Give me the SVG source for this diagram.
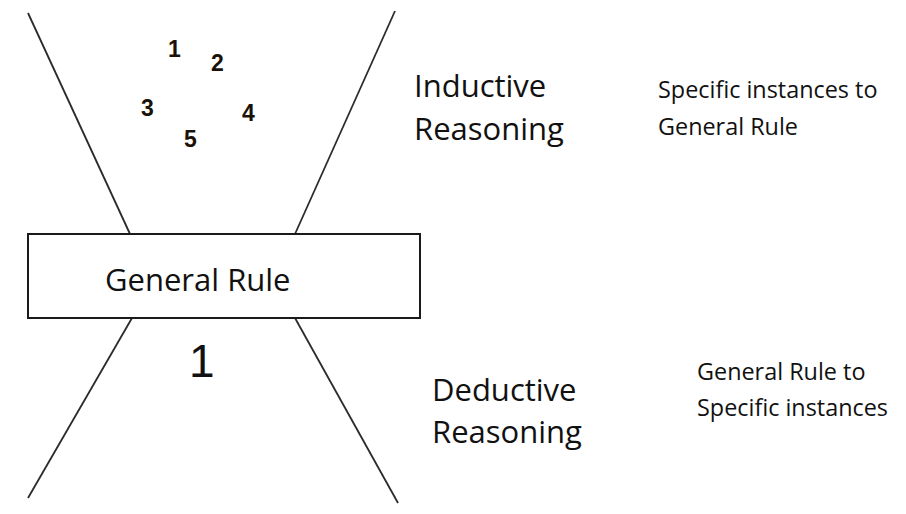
<svg xmlns="http://www.w3.org/2000/svg" width="906" height="514" viewBox="0 0 906 514">
<style>
.ln{stroke:#2b2b2b;stroke-width:1.8;fill:none}
.num{font-family:"Liberation Sans",Arial,sans-serif;font-weight:bold;font-size:23px;fill:#1a1208}
.big{font-family:"Open Sans",sans-serif;font-size:31px;fill:#111}
.small{font-family:"Open Sans",sans-serif;font-size:23.4px;fill:#111}
</style>
<rect width="906" height="514" fill="#fff"/>
<g id="connectors">
<line class="ln" x1="28" y1="13" x2="130" y2="234"/>
<line class="ln" x1="395" y1="11" x2="295" y2="234"/>
<line class="ln" x1="132" y1="318" x2="28" y2="498"/>
<line class="ln" x1="295" y1="318" x2="398" y2="503"/>
</g>
<g id="general-rule">
<rect x="28" y="234" width="392" height="84" fill="#fff" stroke="#1a1a1a" stroke-width="2"/>
<text class="big" x="105" y="291">General Rule</text>
</g>
<g id="instances">
<text class="num" x="168" y="57">1</text>
<text class="num" x="211" y="71">2</text>
<text class="num" x="141" y="116">3</text>
<text class="num" x="242" y="121">4</text>
<text class="num" x="184" y="147">5</text>
</g>
<g id="one">
<text x="189" y="377" font-family="Liberation Sans,Arial,sans-serif" font-size="46" fill="#111">1</text>
</g>
<g id="inductive">
<text class="big" x="414" y="97">Inductive</text>
<text class="big" x="414" y="140">Reasoning</text>
</g>
<g id="inductive-desc">
<text class="small" x="658" y="98">Specific instances to</text>
<text class="small" x="658" y="135">General Rule</text>
</g>
<g id="deductive">
<text class="big" x="432" y="401">Deductive</text>
<text class="big" x="432" y="443">Reasoning</text>
</g>
<g id="deductive-desc">
<text class="small" x="697" y="380">General Rule to</text>
<text class="small" x="697" y="416">Specific instances</text>
</g>
</svg>
